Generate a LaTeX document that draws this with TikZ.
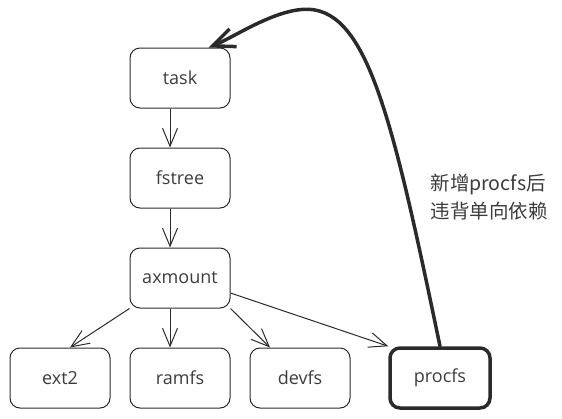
\documentclass[tikz,border=0pt]{standalone}
\usepackage{fontspec}
\setmainfont{Open Sans}
\newfontfamily\cjk{Noto Sans CJK SC}
\usetikzlibrary{arrows.meta}
\definecolor{ink}{HTML}{2A2A2A}
\definecolor{label}{HTML}{3C3C3C}
\begin{document}
\begin{tikzpicture}[x=1pt, y=-1pt,
    box/.style={draw=ink, line width=1pt, rounded corners=10pt,
        minimum width=100pt, minimum height=60pt,
        text=label, font=\fontsize{18}{20}\selectfont},
    dep/.style={draw=ink, line width=1pt, -{Straight Barb[length=18pt,width=15pt]}},
    ]
    \useasboundingbox (0,0) rectangle (562,418);
    % main chain
    \node[box] (task) at (180,78) {task};
    \node[box] (fstree) at (180,178) {fstree};
    \node[box] (axmount) at (180,278) {axmount};
    % file systems
    \foreach \name/\x in {ext2/60, ramfs/180, devfs/300}{
        \node[box] (\name) at (\x,378) {\name};
    }
    \node[box, line width=3.5pt] (procfs) at (440,378) {procfs};

    \draw[dep] ([xshift=-10pt]task.south) -- ([xshift=-10pt]fstree.north);
    \draw[dep] ([xshift=-10pt]fstree.south) -- ([xshift=-10pt]axmount.north);
    \draw[dep] (axmount.south west) -- ([xshift=10pt]ext2.north);
    \draw[dep] ([xshift=-10pt]axmount.south) -- ([xshift=-10pt]ramfs.north);
    \draw[dep] (axmount.south east) -- ([xshift=-30pt]devfs.north);
    \draw[dep] ([yshift=-15pt]axmount.east) -- (procfs.north west);
    % the new back edge
    \draw[ink, line width=3.5pt, line cap=round,
        -{Straight Barb[length=22pt,width=19pt]}]
        (procfs.north) .. controls (395,130) and (370,20) .. (315,10)
        .. controls (282,4) and (235,37) .. ([xshift=-22pt]task.north east);
    \node[anchor=west, align=left, text=label, font=\cjk\fontsize{19.5}{28}\selectfont]
        (note) at (427,197) {新增procfs后\\违背单向依赖};
\end{tikzpicture}
\end{document}
